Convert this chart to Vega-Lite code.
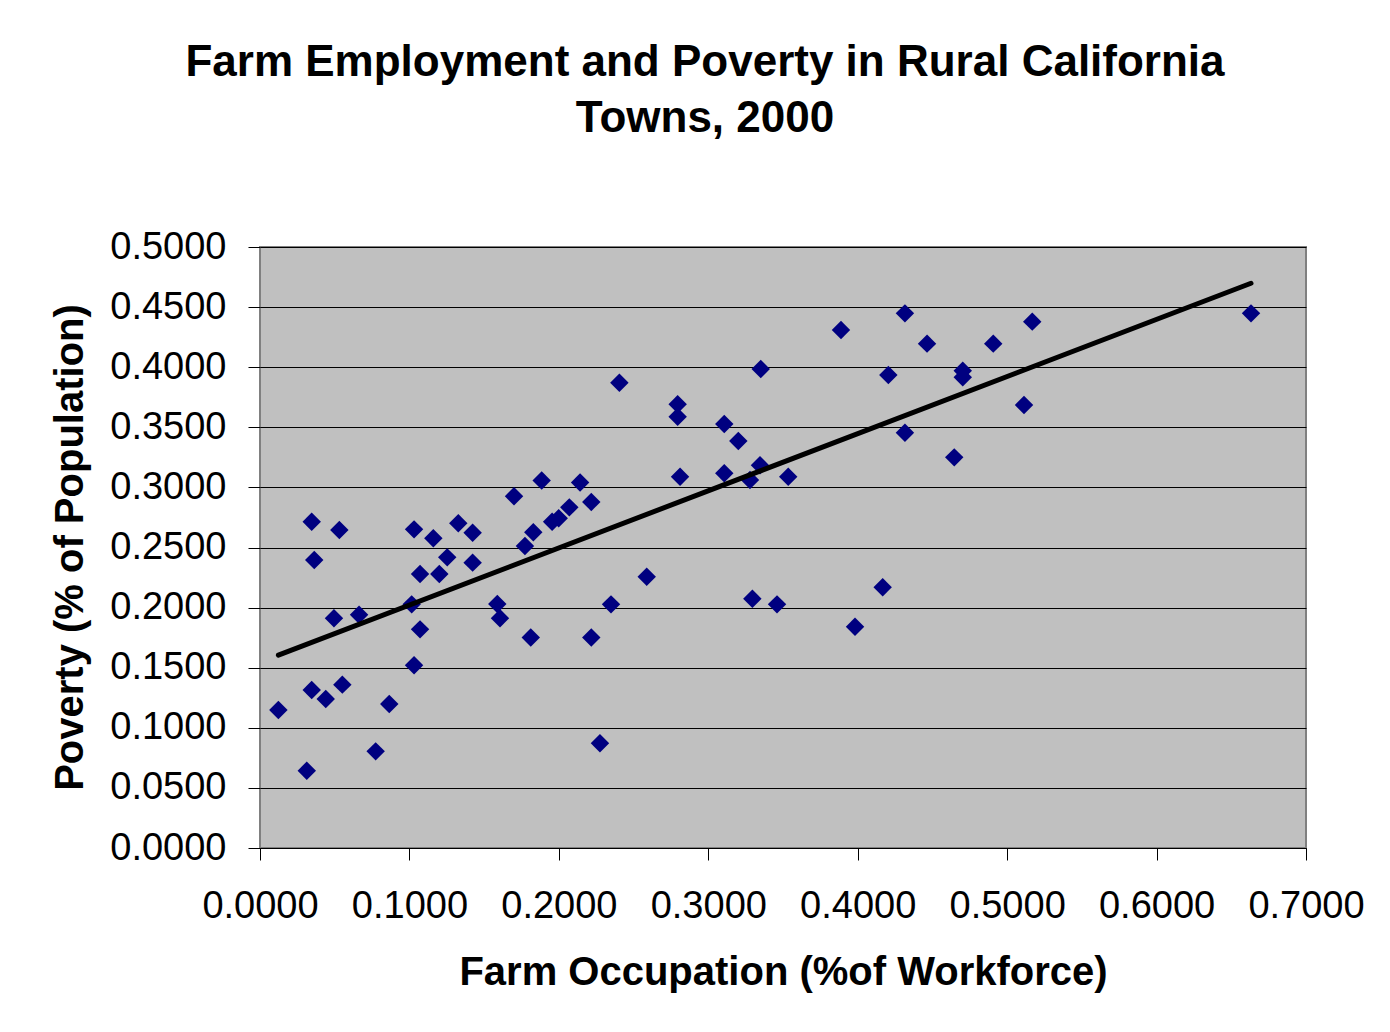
{
  "$schema": "https://vega.github.io/schema/vega-lite/v6.json",
  "autosize": {"type": "none"},
  "padding": {"left": 260, "top": 247, "right": 84, "bottom": 184},
  "width": 1046,
  "height": 601,
  "background": "white",
  "title": {
    "text": ["Farm Employment and Poverty in Rural California", "Towns, 2000"],
    "font": "Liberation Sans",
    "fontSize": 44,
    "fontWeight": "bold",
    "color": "black",
    "lineHeight": 56,
    "frame": "group",
    "anchor": "middle",
    "dx": -78,
    "offset": 87
  },
  "config": {
    "view": {"fill": "#C0C0C0", "stroke": "#808080", "strokeWidth": 2},
    "axis": {
      "labelFont": "Liberation Sans",
      "titleFont": "Liberation Sans",
      "labelColor": "black",
      "titleColor": "black",
      "tickColor": "black",
      "tickSize": 12,
      "gridColor": "black",
      "gridWidth": 1,
      "gridOpacity": 1
    }
  },
  "data": {
    "values": [
      {"farm": 0.0123, "poverty": 0.1148},
      {"farm": 0.0313, "poverty": 0.0643},
      {"farm": 0.0346, "poverty": 0.2715},
      {"farm": 0.0363, "poverty": 0.2396},
      {"farm": 0.0346, "poverty": 0.1314},
      {"farm": 0.0440, "poverty": 0.1240},
      {"farm": 0.0495, "poverty": 0.1911},
      {"farm": 0.0531, "poverty": 0.2646},
      {"farm": 0.0551, "poverty": 0.1359},
      {"farm": 0.0663, "poverty": 0.1941},
      {"farm": 0.0774, "poverty": 0.0804},
      {"farm": 0.0865, "poverty": 0.1198},
      {"farm": 0.1015, "poverty": 0.2027},
      {"farm": 0.1031, "poverty": 0.2651},
      {"farm": 0.1031, "poverty": 0.1520},
      {"farm": 0.1071, "poverty": 0.2280},
      {"farm": 0.1071, "poverty": 0.1819},
      {"farm": 0.1160, "poverty": 0.2577},
      {"farm": 0.1200, "poverty": 0.2280},
      {"farm": 0.1253, "poverty": 0.2418},
      {"farm": 0.1327, "poverty": 0.2701},
      {"farm": 0.1423, "poverty": 0.2623},
      {"farm": 0.1423, "poverty": 0.2374},
      {"farm": 0.1588, "poverty": 0.2030},
      {"farm": 0.1606, "poverty": 0.1911},
      {"farm": 0.1700, "poverty": 0.2926},
      {"farm": 0.1773, "poverty": 0.2512},
      {"farm": 0.1812, "poverty": 0.1751},
      {"farm": 0.1829, "poverty": 0.2627},
      {"farm": 0.1885, "poverty": 0.3057},
      {"farm": 0.1955, "poverty": 0.2715},
      {"farm": 0.1999, "poverty": 0.2743},
      {"farm": 0.2070, "poverty": 0.2834},
      {"farm": 0.2142, "poverty": 0.3041},
      {"farm": 0.2217, "poverty": 0.2879},
      {"farm": 0.2217, "poverty": 0.1751},
      {"farm": 0.2275, "poverty": 0.0871},
      {"farm": 0.2349, "poverty": 0.2027},
      {"farm": 0.2405, "poverty": 0.3871},
      {"farm": 0.2588, "poverty": 0.2257},
      {"farm": 0.2795, "poverty": 0.3691},
      {"farm": 0.2795, "poverty": 0.3588},
      {"farm": 0.2811, "poverty": 0.3089},
      {"farm": 0.3107, "poverty": 0.3527},
      {"farm": 0.3107, "poverty": 0.3117},
      {"farm": 0.3201, "poverty": 0.3386},
      {"farm": 0.3279, "poverty": 0.3062},
      {"farm": 0.3295, "poverty": 0.2074},
      {"farm": 0.3346, "poverty": 0.3184},
      {"farm": 0.3351, "poverty": 0.3985},
      {"farm": 0.3460, "poverty": 0.2027},
      {"farm": 0.3535, "poverty": 0.3089},
      {"farm": 0.3888, "poverty": 0.4309},
      {"farm": 0.3982, "poverty": 0.1841},
      {"farm": 0.4167, "poverty": 0.2169},
      {"farm": 0.4205, "poverty": 0.3935},
      {"farm": 0.4316, "poverty": 0.4448},
      {"farm": 0.4316, "poverty": 0.3455},
      {"farm": 0.4464, "poverty": 0.4196},
      {"farm": 0.4646, "poverty": 0.3250},
      {"farm": 0.4703, "poverty": 0.3971},
      {"farm": 0.4703, "poverty": 0.3916},
      {"farm": 0.4907, "poverty": 0.4196},
      {"farm": 0.5113, "poverty": 0.3686},
      {"farm": 0.5168, "poverty": 0.4379},
      {"farm": 0.6632, "poverty": 0.4448}
    ]
  },
  "layer": [
    {
      "mark": {"type": "point", "shape": "diamond", "filled": true, "color": "#000080", "opacity": 1, "size": 340},
      "encoding": {
        "x": {
          "field": "farm", "type": "quantitative",
          "scale": {"domain": [0, 0.7], "nice": false, "zero": true},
          "axis": {
            "values": [0, 0.1, 0.2, 0.3, 0.4, 0.5, 0.6, 0.7],
            "format": ".4f",
            "grid": false,
            "labelFontSize": 38,
            "labelPadding": 27,
            "labelFlush": false,
            "labelOverlap": false,
            "domain": true,
            "domainColor": "black",
            "domainWidth": 1,
            "title": "Farm Occupation (%of Workforce)",
            "titleFontSize": 40,
            "titleFontWeight": "bold",
            "titleX": 523,
            "titleY": 104,
            "titleAnchor": "middle"
          }
        },
        "y": {
          "field": "poverty", "type": "quantitative",
          "scale": {"domain": [0, 0.5], "nice": false, "zero": true},
          "axis": {
            "values": [0, 0.05, 0.1, 0.15, 0.2, 0.25, 0.3, 0.35, 0.4, 0.45, 0.5],
            "format": ".4f",
            "grid": true,
            "labelFontSize": 38,
            "labelPadding": 22,
            "labelFlush": false,
            "labelOverlap": false,
            "domain": false,
            "title": "Poverty (% of Population)",
            "titleFontSize": 40,
            "titleFontWeight": "bold",
            "titleX": -170,
            "titleY": 300,
            "titleAnchor": "middle"
          }
        }
      }
    },
    {
      "transform": [{"regression": "poverty", "on": "farm"}],
      "mark": {"type": "line", "color": "black", "strokeWidth": 5, "strokeCap": "round"},
      "encoding": {
        "x": {"field": "farm", "type": "quantitative"},
        "y": {"field": "poverty", "type": "quantitative"}
      }
    }
  ]
}
